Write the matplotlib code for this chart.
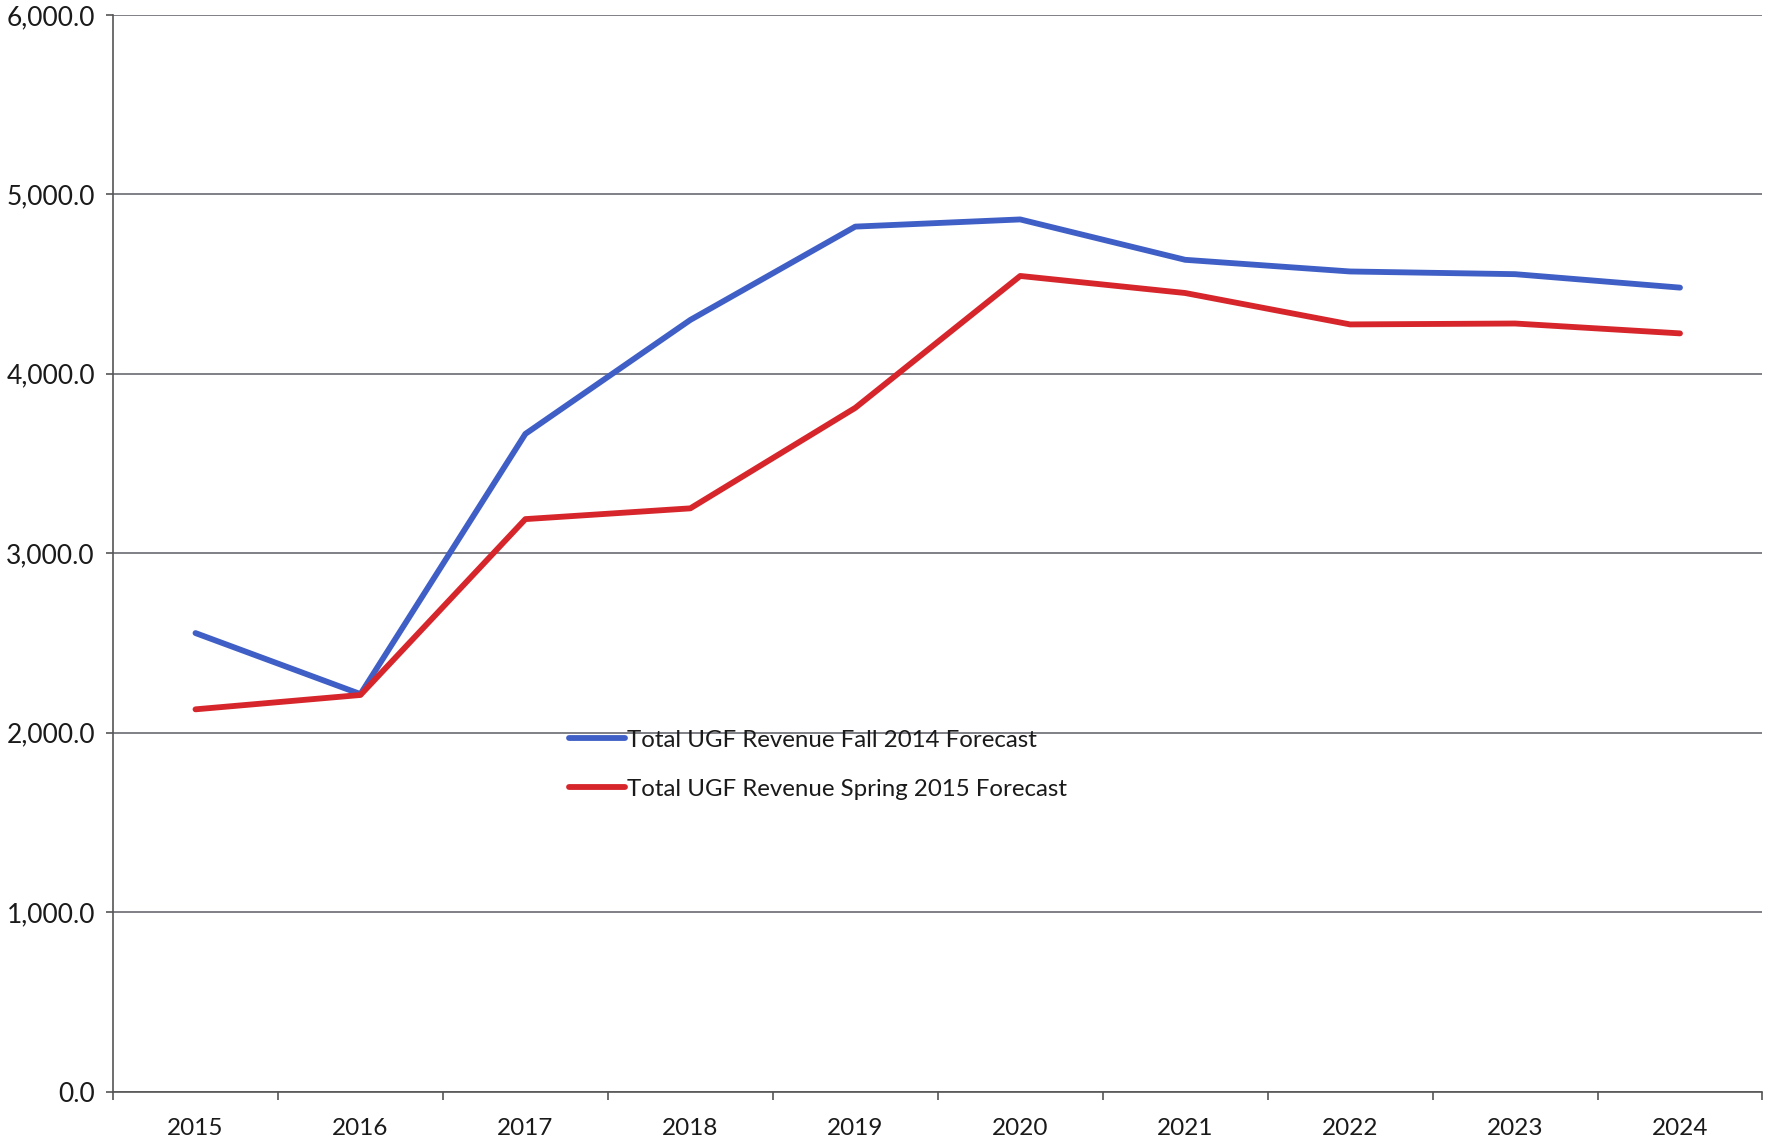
import numpy as np
import matplotlib.pyplot as plt
from matplotlib.ticker import FuncFormatter, FixedLocator

years = ['2015', '2016', '2017', '2018', '2019', '2020', '2021', '2022', '2023', '2024']
fall_2014 = [2555, 2215, 3665, 4300, 4820, 4860, 4635, 4570, 4555, 4480]
spring_2015 = [2130, 2210, 3190, 3250, 3810, 4545, 4450, 4275, 4280, 4225]
labels = ['Total UGF Revenue Fall 2014 Forecast', 'Total UGF Revenue Spring 2015 Forecast']

plt.rcParams['font.family'] = ['Lato', 'DejaVu Sans']

fig = plt.figure(figsize=(17.66, 11.43), dpi=100)
ax = fig.add_axes([0.064, 0.045, 0.934, 0.942])

x = np.arange(len(years))
ax.plot(x, fall_2014, color='#3F5FC6', lw=4.2, solid_capstyle='round', label=labels[0], zorder=3)
ax.plot(x, spring_2015, color='#D6262B', lw=4.2, solid_capstyle='round', label=labels[1], zorder=3)

ax.set_xlim(-0.5, len(years) - 0.5)
ax.set_ylim(0, 6000)
ax.set_yticks(np.arange(0, 6001, 1000))
ax.yaxis.set_major_formatter(FuncFormatter(lambda v, p: '{:,.1f}'.format(v)))
ax.grid(axis='y', color='#6a6a72', lw=1.2)
ax.set_axisbelow(True)

ax.set_xticks(x)
ax.set_xticklabels(years)
ax.xaxis.set_minor_locator(FixedLocator(np.arange(-0.5, len(years), 1.0)))
ax.tick_params(axis='x', which='major', length=0, pad=19, labelsize=17.5, labelcolor='#1a1a1a')
ax.tick_params(axis='x', which='minor', length=6, width=1.2, color='#555555')
ax.tick_params(axis='y', length=5, width=1.2, color='#555555', pad=8, labelsize=19,
               labelcolor='#1a1a1a')

for s in ['top', 'right']:
    ax.spines[s].set_visible(False)
for s in ['left', 'bottom']:
    ax.spines[s].set_color('#555555')
    ax.spines[s].set_linewidth(1.2)

leg = ax.legend(loc='upper left', bbox_to_anchor=(0.2635, 0.356), frameon=False,
                fontsize=17.3, handlelength=2.3, handletextpad=0.1, labelspacing=1.15)
for t in leg.get_texts():
    t.set_color('#1a1a1a')

fig.savefig('out.png', dpi=100)
